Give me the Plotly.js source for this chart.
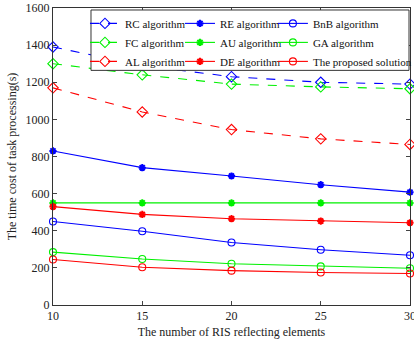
<!DOCTYPE html>
<html><head><meta charset="utf-8">
<script src="https://cdn.plot.ly/plotly-3.0.1.min.js"></script>
<style>body{margin:0;padding:0;background:#fff}#plot{width:414px;height:341px}</style>
</head><body><div id="plot"></div>
<script>
const xVals = [10, 15, 20, 25, 30];
const rc = [1390, 1290, 1230, 1200, 1190];
const re = [830, 740, 695, 648, 608];
const bnb = [450, 397, 337, 298, 268];
const fc = [1300, 1240, 1190, 1175, 1165];
const au = [550, 550, 550, 550, 550];
const ga = [285, 248, 222, 208, 198];
const al = [1170, 1040, 945, 895, 865];
const de = [530, 488, 465, 452, 443];
const prop = [245, 203, 185, 175, 170];
const names = ["RC algorithm","RE algorithm","BnB algorithm","FC algorithm","AU algorithm","GA algorithm","AL algorithm","DE algorithm","The proposed solution"];
const series = [rc, re, bnb, fc, au, ga, al, de, prop];
const colors = ["#0000ff","#0000ff","#0000ff","#00f000","#00f000","#00f000","#ff0000","#ff0000","#ff0000"];
const symbols = ["diamond-open","asterisk-open","circle-open","diamond-open","asterisk-open","circle-open","diamond-open","asterisk-open","circle-open"];
const dashes = ["dash","solid","solid","dash","solid","solid","dash","solid","solid"];
const sizes = {"diamond-open": 8, "asterisk-open": 6, "circle-open": 7};
const legendIds = ["legend", "legend2", "legend3"];
const traces = series.map((y, i) => ({
  x: xVals, y: y, name: names[i], type: "scatter", mode: "lines+markers",
  line: {color: colors[i], width: 1.1, dash: dashes[i]},
  marker: {symbol: symbols[i], size: sizes[symbols[i]], color: colors[i], line: {color: colors[i], width: symbols[i]==="asterisk-open"?2:1.1}},
  legend: legendIds[i % 3],
  cliponaxis: false
}));
const fam = "Liberation Serif, Times New Roman, serif";
function leg(x) {
  return {orientation: "v", x: x, xanchor: "left", y: 0.997, yanchor: "top",
    bgcolor: "rgba(255,255,255,0)", borderwidth: 0, tracegroupgap: 0, itemwidth: 30,
    font: {family: fam, size: 11, color: "#111"}};
}
Plotly.newPlot("plot", traces, {
  width: 414, height: 341,
  margin: {l: 53, r: 4, t: 8, b: 36, autoexpand: false},
  paper_bgcolor: "#fff", plot_bgcolor: "#fff",
  font: {family: fam, size: 12, color: "#222"},
  showlegend: true,
  legend: leg(0.0896), legend2: leg(0.3557), legend3: leg(0.616),
  shapes: [{type: "rect", xref: "paper", yref: "paper", x0: 0.1064, x1: 0.9972, y0: 0.79, y1: 0.9933,
    line: {color: "#333", width: 1}, fillcolor: "#fff", layer: "above"}],
  xaxis: {range: [10, 30], tickvals: [10, 15, 20, 25, 30], ticks: "inside", ticklen: 4,
    ticklabeloverflow: "allow",
    showgrid: false, zeroline: false, showline: true, mirror: "ticks", linecolor: "#333", linewidth: 1,
    title: {text: "The number of RIS reflecting elements", font: {family: fam, size: 12}, standoff: 5}},
  yaxis: {range: [0, 1600], dtick: 200, ticks: "inside", ticklen: 4,
    showgrid: false, zeroline: false, showline: true, mirror: "ticks", linecolor: "#333", linewidth: 1,
    title: {text: "The time cost of task processing(s)", font: {family: fam, size: 12}, standoff: 6}}
}, {displayModeBar: false, staticPlot: true});
</script></body></html>
